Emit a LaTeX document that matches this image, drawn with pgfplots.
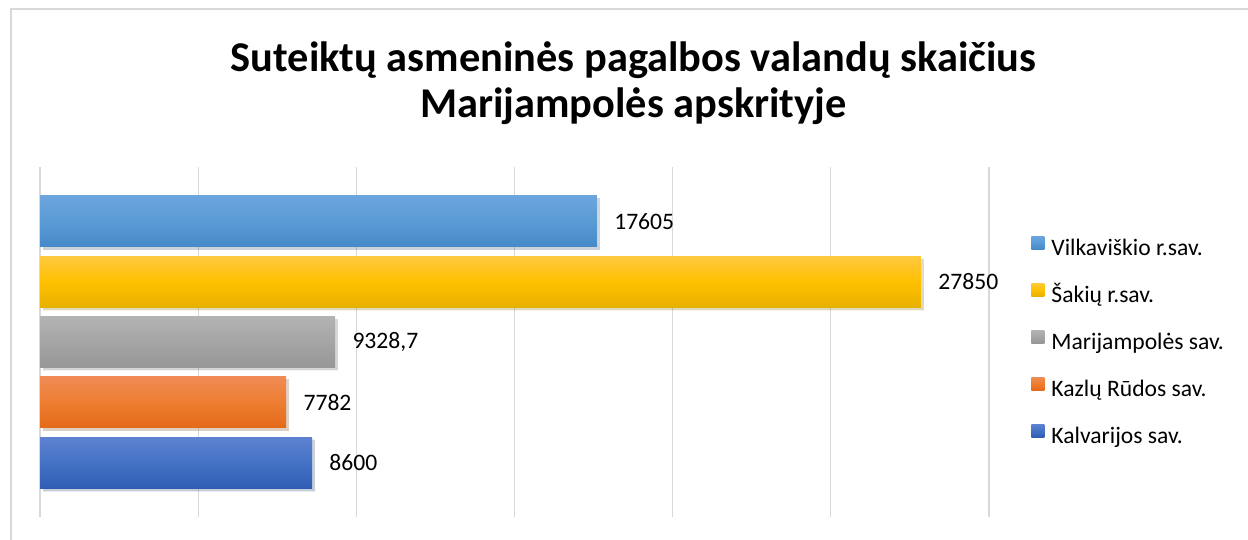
\documentclass[border=0pt]{standalone}
\usepackage{pgfplots}
\pgfplotsset{compat=1.18}
\usepackage{fontspec}
\setmainfont{Carlito}
\usetikzlibrary{shadows}
\definecolor{gridc}{RGB}{217,217,217}
\definecolor{vilT}{HTML}{6DA5DD}\definecolor{vilM}{HTML}{5A9BD5}\definecolor{vilB}{HTML}{4689C8}
\definecolor{sakT}{HTML}{FFC940}\definecolor{sakM}{HTML}{FFC000}\definecolor{sakB}{HTML}{E8B100}
\definecolor{marT}{HTML}{B3B3B3}\definecolor{marM}{HTML}{A5A5A5}\definecolor{marB}{HTML}{969696}
\definecolor{kazT}{HTML}{F08B55}\definecolor{kazM}{HTML}{ED7D31}\definecolor{kazB}{HTML}{E46A18}
\definecolor{kalT}{HTML}{5E82D2}\definecolor{kalM}{HTML}{4472C4}\definecolor{kalB}{HTML}{2F5DB5}
\begin{document}
\begin{tikzpicture}
\useasboundingbox (0,0) rectangle (624pt,270pt);
\draw[gridc, line width=0.6pt] (5.5pt,0pt) -- (5.5pt,265.5pt) -- (624pt,265.5pt);
\node[anchor=base, inner sep=0pt, font=\fontsize{21.2}{25}\selectfont\bfseries] at (316.75pt,234pt) {Suteiktų asmeninės pagalbos valandų skaičius};
\node[anchor=base, inner sep=0pt, font=\fontsize{21.2}{25}\selectfont\bfseries] at (316.75pt,211pt) {Marijampolės apskrityje};
\begin{axis}[
  at={(20pt,11.5pt)}, anchor=south west,
  width=474.5pt, height=175pt, scale only axis,
  xmin=0, xmax=30000, ymin=0.1, ymax=5.9,
  xtick={0,5000,...,30000}, xticklabels={}, scaled x ticks=false, ytick=\empty,
  major tick length=0pt,
  xmajorgrids, grid style={gridc, line width=0.6pt},
  axis line style={draw=none},
  clip=false,
  xbar, bar width=0.85, bar shift=0pt,
  point meta=explicit symbolic,
  nodes near coords,
  every node near coord/.append style={font=\fontsize{11.8}{14}\selectfont, anchor=west, inner sep=0pt, xshift=8.5pt, text=black},
  legend style={at={(1.0443,0.5)}, anchor=west, draw=none, fill=none, inner sep=0pt,
    font=\fontsize{11.8}{14}\selectfont, row sep=11.5pt,
    nodes={inner sep=0pt, text height=8.5pt, text depth=2.5pt},
    /tikz/every odd column/.append style={column sep=3.5pt}},
  legend cell align=left,
  legend image code/.code={\path[#1] (0pt,0pt) rectangle (6.5pt,6.5pt);},
  bshadow/.style={drop shadow={shadow xshift=1.4pt, shadow yshift=-1.4pt, opacity=0.13, fill=black}},
]
\addlegendimage{top color=vilT, bottom color=vilB, middle color=vilM, draw=none}
\addlegendentry{Vilkaviškio r.sav.}
\addlegendimage{top color=sakT, bottom color=sakB, middle color=sakM, draw=none}
\addlegendentry{Šakių r.sav.}
\addlegendimage{top color=marT, bottom color=marB, middle color=marM, draw=none}
\addlegendentry{Marijampolės sav.}
\addlegendimage{top color=kazT, bottom color=kazB, middle color=kazM, draw=none}
\addlegendentry{Kazlų Rūdos sav.}
\addlegendimage{top color=kalT, bottom color=kalB, middle color=kalM, draw=none}
\addlegendentry{Kalvarijos sav.}

\addplot[forget plot, draw=none, bshadow, top color=vilT, bottom color=vilB, middle color=vilM] coordinates {(17605,5) [17605]};
\addplot[forget plot, draw=none, bshadow, top color=sakT, bottom color=sakB, middle color=sakM] coordinates {(27850,4) [27850]};
\addplot[forget plot, draw=none, bshadow, top color=marT, bottom color=marB, middle color=marM] coordinates {(9328.7,3) [{9328,7}]};
\addplot[forget plot, draw=none, bshadow, top color=kazT, bottom color=kazB, middle color=kazM] coordinates {(7782,2) [7782]};
\addplot[forget plot, draw=none, bshadow, top color=kalT, bottom color=kalB, middle color=kalM] coordinates {(8600,1) [8600]};
\end{axis}
\end{tikzpicture}
\end{document}
